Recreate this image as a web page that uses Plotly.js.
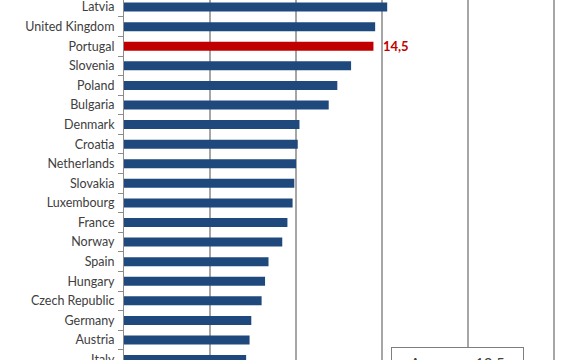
<!DOCTYPE html>
<html>
<head>
<meta charset="utf-8">
<script src="https://cdn.plot.ly/plotly-3.0.1.min.js"></script>
<style>html,body{margin:0;padding:0;background:#fff;}#chart{width:584px;height:360px;}</style>
</head>
<body>
<div id="chart"></div>
<script>
const countries = ["Latvia","United Kingdom","Portugal","Slovenia","Poland","Bulgaria","Denmark","Croatia","Netherlands","Slovakia","Luxembourg","France","Norway","Spain","Hungary","Czech Republic","Germany","Austria","Italy"];
const values = [15.3,14.6,14.5,13.2,12.4,11.9,10.2,10.1,10.0,9.9,9.8,9.5,9.2,8.4,8.2,8.0,7.4,7.3,7.1];
const highlight = "Portugal";
const highlightLabel = "14,5";
const averageLabel = "Average:  12,5";
const gridTicks = [5,10,15,20,25];

const colors = countries.map(c => c === highlight ? "#C00000" : "#1F497D");
const hi = countries.indexOf(highlight);

const trace = {
  type: "bar",
  orientation: "h",
  y: countries,
  x: values,
  width: 0.46,
  marker: {color: colors, line: {width: 0}},
  hoverinfo: "skip"
};

const layout = {
  width: 584, height: 360,
  margin: {l: 124, r: 0, t: 0, b: 0, pad: 0},
  paper_bgcolor: "#fff", plot_bgcolor: "#fff",
  showlegend: false,
  font: {family: "Lato, 'Open Sans', sans-serif", size: 12, color: "#404040"},
  xaxis: {
    range: [0, 26.74], tickvals: gridTicks, showticklabels: false,
    showgrid: true, gridcolor: "#A6A6A6", gridwidth: 2,
    zeroline: false, showline: false, ticks: "", automargin: false, fixedrange: true
  },
  yaxis: {
    type: "category", categoryorder: "array", categoryarray: countries,
    range: [18.02, -0.36],
    showline: true, linecolor: "#8C8C8C", linewidth: 1,
    ticks: "outside", ticklen: 5, tickcolor: "#8C8C8C", tickwidth: 1,
    tickson: "boundaries", ticklabelstandoff: 6,
    showgrid: false, zeroline: false, automargin: false, fixedrange: true,
    tickfont: {family: "Lato, 'Open Sans', sans-serif", size: 12.5, color: "#404040"}
  },
  annotations: [
    {x: values[hi], y: countries[hi], xref: "x", yref: "y", text: "<b>" + highlightLabel + "</b>",
     showarrow: false, xanchor: "left", yanchor: "middle", xshift: 8,
     font: {family: "Lato, 'Open Sans', sans-serif", size: 13, color: "#C00000"}},
    {x: 457, y: 347, xref: "paper", yref: "paper", text: averageLabel,
     showarrow: false, xanchor: "center", yanchor: "top",
     width: 131, height: 29, bgcolor: "#fff", bordercolor: "#7F7F7F", borderwidth: 1, borderpad: 0,
     font: {family: "Lato, 'Open Sans', sans-serif", size: 15, color: "#404040"}}
  ]
};
// convert pixel position of the average box into paper coordinates
const pw = 584 - 124, ph = 360;
layout.annotations[1].x = (457 - 124) / pw;
layout.annotations[1].y = 1 - 347 / ph;

Plotly.newPlot("chart", [trace], layout, {displayModeBar: false, staticPlot: true});
</script>
</body>
</html>
